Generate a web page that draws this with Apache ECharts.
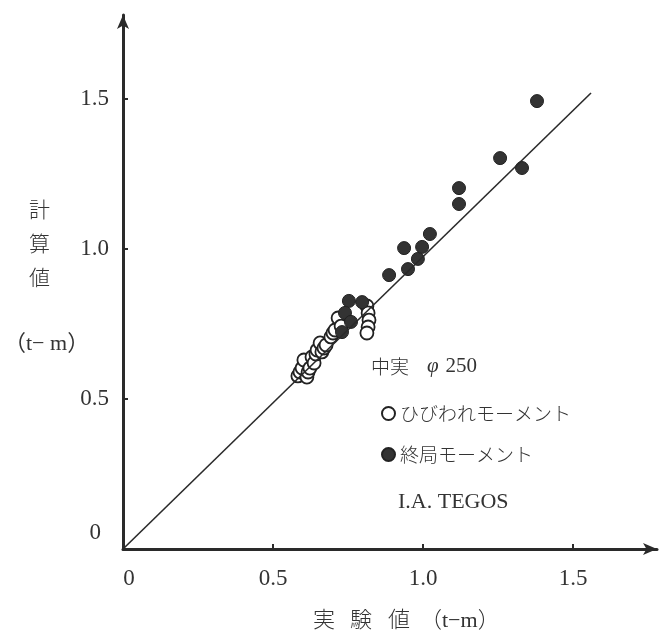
<!DOCTYPE html>
<html>
<head>
<meta charset="utf-8">
<script src="https://cdn.jsdelivr.net/npm/echarts@6/dist/echarts.min.js"></script>
<style>
  html, body { margin: 0; padding: 0; background: #fff; }
  #chart { width: 664px; height: 641px; }
</style>
</head>
<body>
<div id="chart"></div>
<script>
// ひびわれモーメント (open circles): [実験値, 計算値]
const crackPoints = [
  [0.583, 0.577], [0.590, 0.590], [0.597, 0.603], [0.603, 0.630], [0.613, 0.573],
  [0.617, 0.590], [0.623, 0.603], [0.630, 0.640], [0.637, 0.620], [0.643, 0.650],
  [0.647, 0.663], [0.657, 0.687], [0.663, 0.657], [0.670, 0.670], [0.677, 0.680],
  [0.693, 0.707], [0.700, 0.720], [0.707, 0.730], [0.717, 0.770], [0.727, 0.743],
  [0.813, 0.810], [0.817, 0.787], [0.820, 0.763], [0.817, 0.740], [0.813, 0.720]
]
// 終局モーメント (filled circles)
const ultimatePoints = [
  [0.753, 0.827], [0.797, 0.823], [0.740, 0.787], [0.760, 0.757], [0.730, 0.723],
  [0.887, 0.913], [0.950, 0.933], [0.983, 0.967], [0.937, 1.003], [0.997, 1.007],
  [1.023, 1.050], [1.120, 1.203], [1.120, 1.150], [1.257, 1.303], [1.330, 1.270],
  [1.380, 1.493]
]
// 計算値 = 実験値 の目安線
const refLine = [[0, 0], [1.56, 1.52]]
const tickValues = [0, 0.5, 1.0, 1.5]
const axisMax = 1.78

const serif = "'Liberation Serif', 'Noto Sans CJK JP', serif"
const jp = "'Noto Sans CJK JP'"
const ink = '#2a2a2a'
const textColor = '#333'

const chart = echarts.init(document.getElementById('chart'))

const fmt = v => (v === 0 ? '{z|0}' : v.toFixed(1))

// x axis title, one glyph at a time to keep the wide spacing
const xTitleParts = [
  { s: '実', x: 313 }, { s: '験', x: 350 }, { s: '値', x: 388 }, { s: '（t−m）', x: 420 }
]

chart.setOption({
  animation: false,
  grid: { left: 123, top: 15, width: 534, height: 534 },
  xAxis: {
    type: 'value',
    min: 0,
    max: axisMax,
    splitLine: { show: false },
    axisLine: {
      lineStyle: { color: ink, width: 3 },
      symbol: ['none', 'arrow'],
      symbolSize: [9, 14]
    },
    axisTick: { inside: true, length: 5, customValues: tickValues.slice(1), lineStyle: { color: ink, width: 2 } },
    axisLabel: {
      customValues: tickValues,
      formatter: fmt,
      margin: 18,
      fontFamily: serif,
      fontSize: 23,
      color: textColor,
      rich: { z: { fontFamily: serif, fontSize: 23, color: textColor, padding: [0, 0, 0, 12] } }
    }
  },
  yAxis: {
    type: 'value',
    min: 0,
    max: axisMax,
    splitLine: { show: false },
    axisLine: {
      lineStyle: { color: ink, width: 3 },
      symbol: ['none', 'arrow'],
      symbolSize: [9, 14]
    },
    axisTick: { inside: true, length: 5, customValues: tickValues.slice(1), lineStyle: { color: ink, width: 2 } },
    axisLabel: {
      customValues: tickValues,
      formatter: fmt,
      margin: 14,
      fontFamily: serif,
      fontSize: 23,
      color: textColor,
      rich: { z: { fontFamily: serif, fontSize: 23, color: textColor, padding: [0, 8, 32, 0] } }
    }
  },
  legend: {
    data: ['ひびわれモーメント', '終局モーメント'],
    orient: 'vertical',
    left: 376,
    top: 399,
    itemGap: 22,
    itemWidth: 13,
    itemHeight: 13,
    textStyle: { fontFamily: jp, fontSize: 19, fontWeight: 300, color: textColor }
  },
  graphic: [
    {
      type: 'text', left: 371, top: 356,
      style: {
        text: '{a|中実}{b|φ}{c|250}',
        rich: {
          a: { fontFamily: jp, fontSize: 19, fontWeight: 300, fill: textColor },
          b: { fontFamily: serif, fontSize: 21, fontStyle: 'italic', fill: textColor, padding: [0, 7, 0, 18] },
          c: { fontFamily: serif, fontSize: 21, fill: textColor }
        }
      }
    },
    {
      type: 'text', left: 398, top: 491,
      style: { text: 'I.A. TEGOS', font: "22px 'Liberation Serif'", fill: textColor }
    },
    {
      type: 'text', left: 29, top: 192,
      style: { text: '計\n算\n値', font: '300 21px ' + jp, lineHeight: 34, fill: textColor }
    },
    {
      type: 'text', left: 4, top: 333,
      style: { text: '（t− m）', font: '22px ' + serif, fill: textColor }
    }
  ].concat(xTitleParts.map(p => ({
    type: 'text', left: p.x, top: 610,
    style: { text: p.s, font: '300 22px ' + serif, fill: textColor }
  }))),
  series: [
    {
      type: 'line',
      data: refLine,
      symbol: 'none',
      silent: true,
      lineStyle: { color: ink, width: 1.6 }
    },
    {
      name: 'ひびわれモーメント',
      type: 'scatter',
      data: crackPoints,
      symbol: 'circle',
      symbolSize: 13,
      itemStyle: { color: '#fff', borderColor: '#222', borderWidth: 1.8, opacity: 1 }
    },
    {
      name: '終局モーメント',
      type: 'scatter',
      data: ultimatePoints,
      symbol: 'circle',
      symbolSize: 13,
      itemStyle: { color: '#333', borderColor: '#222', borderWidth: 1, opacity: 1 }
    }
  ]
})
</script>
</body>
</html>
